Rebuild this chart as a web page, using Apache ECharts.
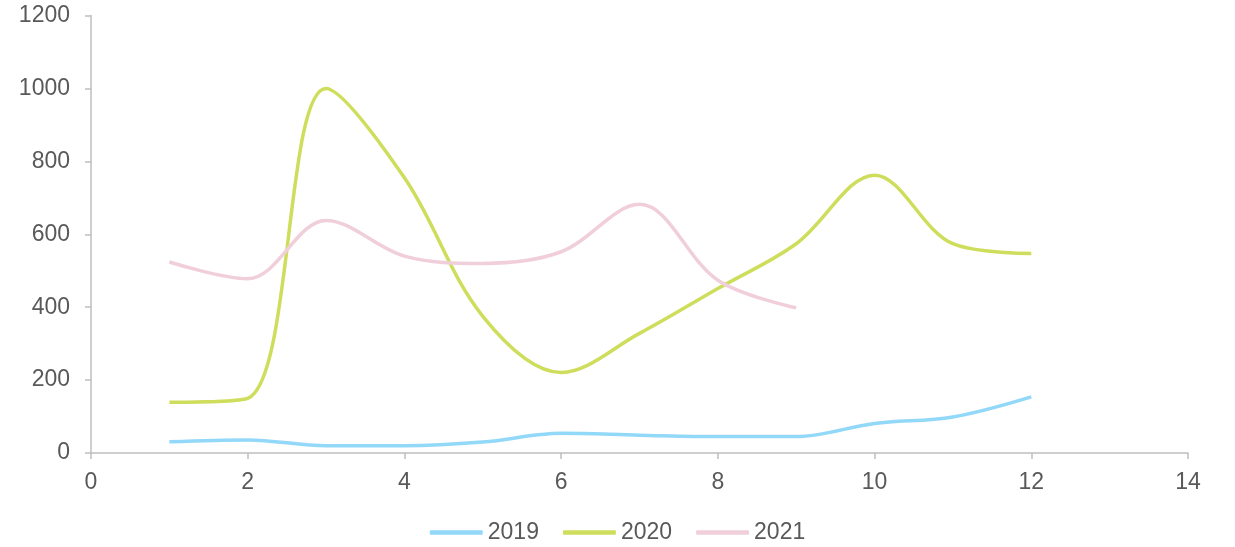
<!DOCTYPE html>
<html>
<head>
<meta charset="utf-8">
<script src="https://cdn.jsdelivr.net/npm/echarts@6/dist/echarts.min.js"></script>
<style>html,body{margin:0;padding:0;background:#fff}#c{width:1235px;height:547px}</style>
</head>
<body>
<div id="c"></div>
<script>
const months = [1,2,3,4,5,6,7,8,9,10,11,12];
const v2019 = [31,36,20,20,30,54,49,45,45,81,99,154];
const v2020 = [139,150,1000,755,375,221,328,451,574,762,574,547];
const v2021 = [524,478,638,540,520,552,682,474,398];
const seriesNames = ['2019','2020','2021'];
const colors = ['#92d8f8','#cede5c','#f0cfda'];
const xTicks = [0,2,4,6,8,10,12,14];
const yTicks = [0,200,400,600,800,1000,1200];

function pairs(vals){ return vals.map((v,i)=>[months[i], v]); }
const allVals = [v2019, v2020, v2021];
const font = 'Liberation Sans, Arial, sans-serif';

const chart = echarts.init(document.getElementById('c'));
chart.setOption({
  animation: false,
  grid: {left: 91, right: 47, top: 15.5, bottom: 94},
  xAxis: {
    type: 'value', min: xTicks[0], max: xTicks[xTicks.length-1], interval: 2,
    axisLine: {lineStyle: {color: '#bfbfbf', width: 1.5}},
    axisTick: {show: true, inside: false, length: 6, lineStyle: {color: '#bfbfbf', width: 1.5}},
    splitLine: {show: false},
    axisLabel: {color: '#595959', fontSize: 23, fontFamily: font, margin: 18, formatter: v => String(v)}
  },
  yAxis: {
    type: 'value', min: yTicks[0], max: yTicks[yTicks.length-1], interval: 200,
    axisLine: {show: true, lineStyle: {color: '#bfbfbf', width: 1.5}},
    axisTick: {show: true, inside: false, length: 6, lineStyle: {color: '#bfbfbf', width: 1.5}},
    splitLine: {show: false},
    axisLabel: {color: '#595959', fontSize: 23, fontFamily: font, margin: 21, formatter: v => String(v)}
  },
  legend: {
    top: 521, left: 'center', padding: 0,
    itemWidth: 53, itemHeight: 4.5, itemGap: 24,
    icon: 'roundRect',
    textStyle: {color: '#595959', fontSize: 23, fontFamily: font},
    data: seriesNames
  },
  series: seriesNames.map((n,i)=>({
    name: n, type: 'line', data: pairs(allVals[i]), smooth: 0.35,
    showSymbol: false, symbol: 'none',
    lineStyle: {color: colors[i], width: 3.5},
    itemStyle: {color: colors[i]}
  }))
});
</script>
</body>
</html>
